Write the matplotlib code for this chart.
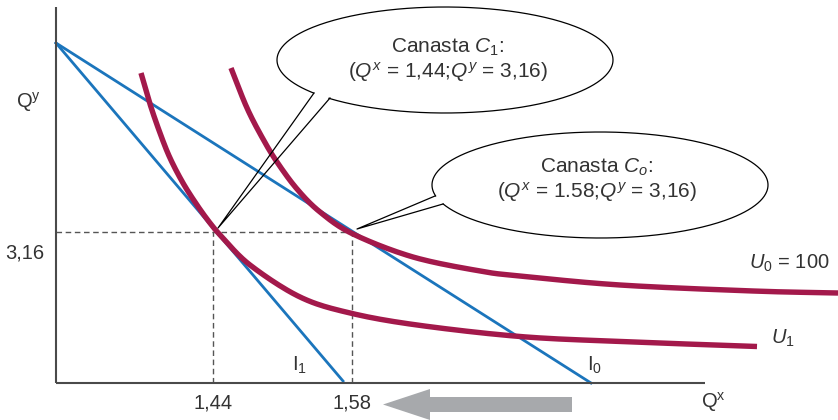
import numpy as np
import matplotlib
matplotlib.use("Agg")
import matplotlib.pyplot as plt
from matplotlib.patches import FancyArrow

plt.rcParams['font.family'] = ['Liberation Sans', 'DejaVu Sans']
plt.rcParams['mathtext.fontset'] = 'custom'
plt.rcParams['mathtext.rm'] = 'Liberation Sans'
plt.rcParams['mathtext.it'] = 'Liberation Sans:italic'
plt.rcParams['mathtext.bf'] = 'Liberation Sans:bold'

# ---- data (schematic diagram units, origin at the axes corner) ----
budget_I0_x = [0, 535]
budget_I0_y = [340, 0]
budget_I1_x = [0, 287]
budget_I1_y = [340, 2]

U0_x = [175, 191, 207, 221, 241, 264, 297, 357, 424, 464, 564, 697, 782]
U0_y = [315, 275, 244, 221, 194, 171, 149, 126, 112, 107, 98, 92, 90]

U1_x = [85, 94, 104, 114, 127, 141, 154, 166, 194, 244, 294, 361, 464, 564, 701]
U1_y = [310, 279, 250, 225, 200, 178, 160, 146, 118, 86, 70, 58, 46.5, 41.5, 36.5]

C1 = (157, 151)   # Qx = 1,44 ; Qy = 3,16
C0 = (296, 151)   # Qx = 1,58 ; Qy = 3,16
x_tick_labels = ['1,44', '1,58']
y_tick_label = '3,16'

BLUE = '#1b75bc'
MAROON = '#a3194b'
TXT = '#333333'


def smooth(xs, ys, n=20):
    """Catmull-Rom rendering through the read points."""
    P = np.column_stack([xs, ys]).astype(float)
    P = np.vstack([2 * P[0] - P[1], P, 2 * P[-1] - P[-2]])
    out = []
    t = np.linspace(0, 1, n, endpoint=False)[:, None]
    for i in range(1, len(P) - 2):
        p0, p1, p2, p3 = P[i - 1], P[i], P[i + 1], P[i + 2]
        seg = 0.5 * ((2 * p1) + (-p0 + p2) * t + (2 * p0 - 5 * p1 + 4 * p2 - p3) * t ** 2
                     + (-p0 + 3 * p1 - 3 * p2 + p3) * t ** 3)
        out.append(seg)
    out.append(P[-2][None, :])
    out = np.vstack(out)
    return out[:, 0], out[:, 1]


fig = plt.figure(figsize=(8.38, 4.2), dpi=100)
ax = fig.add_axes([0, 0, 1, 1])
ax.set_xlim(-56, 782)
ax.set_ylim(-37, 383)
ax.axis('off')

# axes
ax.plot([0, 0], [0, 376], color='#4a4a4a', lw=1.5, solid_capstyle='butt', zorder=3)
ax.plot([0, 649], [0, 0], color='#4a4a4a', lw=1.5, solid_capstyle='butt', zorder=3)

# dashed guides
dash = dict(color='#555555', lw=1.0, linestyle=(0, (4, 2.6)), zorder=1)
ax.plot([0, C0[0]], [C0[1], C0[1]], **dash)
ax.plot([C1[0], C1[0]], [0, C1[1]], **dash)
ax.plot([C0[0], C0[0]], [0, C0[1]], **dash)

# budget lines
ax.plot(budget_I0_x, budget_I0_y, color=BLUE, lw=2.0, zorder=2)
ax.plot(budget_I1_x, budget_I1_y, color=BLUE, lw=2.0, zorder=2)

# indifference curves
sx, sy = smooth(U0_x, U0_y)
ax.plot(sx, sy, color=MAROON, lw=3.9, solid_capstyle='butt', zorder=4)
sx, sy = smooth(U1_x, U1_y)
ax.plot(sx, sy, color=MAROON, lw=3.9, solid_capstyle='butt', zorder=4)


def bubble(cx, cy, a, b, base1, base2, tip):
    t1 = np.arctan2((base1[1] - cy) / b, (base1[0] - cx) / a)
    t2 = np.arctan2((base2[1] - cy) / b, (base2[0] - cx) / a)
    lo, hi = sorted([t1, t2])
    t = np.linspace(hi, lo + 2 * np.pi, 400)
    ax.plot(cx + a * np.cos(t), cy + b * np.sin(t), color='black', lw=0.9, zorder=5)
    ax.plot([base1[0], tip[0], base2[0]], [base1[1], tip[1], base2[1]],
            color='black', lw=0.9, zorder=5)


bubble(389, 323, 168, 53, (258, 290), (274, 285), (162, 155))
bubble(544, 198, 168, 53, (379, 187), (387, 179), (301, 154))

fs = 15
ax.text(392, 336, r'Canasta $\mathit{C_1}$:', ha='center', va='center', fontsize=fs, color=TXT)
ax.text(392, 311, r'($\mathit{Q^x}$ = 1,44;$\mathit{Q^y}$ = 3,16)', ha='center', va='center',
        fontsize=fs, color=TXT)
ax.text(541, 216, r'Canasta $\mathit{C_o}$:', ha='center', va='center', fontsize=fs, color=TXT)
ax.text(541, 191, r'($\mathit{Q^x}$ = 1.58;$\mathit{Q^y}$ = 3,16)', ha='center', va='center',
        fontsize=fs, color=TXT)

# axis labels / ticks
fs2 = 14.5
ax.text(-28, 281, r'$\mathrm{Q^y}$', ha='center', va='center', fontsize=fs2, color=TXT)
ax.text(657, -19, r'$\mathrm{Q^x}$', ha='center', va='center', fontsize=fs2, color=TXT)
ax.text(C1[0], -20, x_tick_labels[0], ha='center', va='center', fontsize=fs2, color=TXT)
ax.text(C0[0], -20, x_tick_labels[1], ha='center', va='center', fontsize=fs2, color=TXT)
ax.text(-31, 130, y_tick_label, ha='center', va='center', fontsize=fs2, color=TXT)

ax.text(244, 18, r'$\mathrm{I_1}$', ha='center', va='center', fontsize=fs2, color=TXT)
ax.text(539, 18, r'$\mathrm{I_0}$', ha='center', va='center', fontsize=fs2, color=TXT)
ax.text(693, 120, r'$\mathit{U_0}$ = 100', ha='left', va='center', fontsize=fs2, color=TXT)
ax.text(715, 45, r'$\mathit{U_1}$', ha='left', va='center', fontsize=fs2, color=TXT)

# shift arrow
ax.add_patch(FancyArrow(516, -21.5, -189, 0, width=15, head_width=31, head_length=47,
                        length_includes_head=True, color='#a7a9ac', lw=0, zorder=2))

fig.savefig('out.png', dpi=100)
